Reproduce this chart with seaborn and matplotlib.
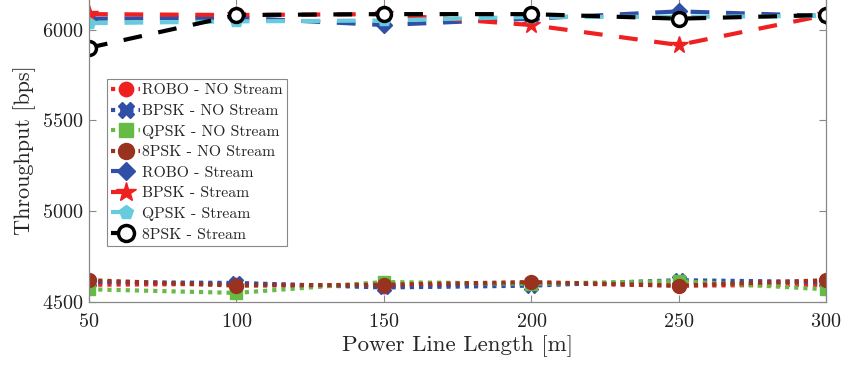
import matplotlib
matplotlib.use("Agg")
import matplotlib.pyplot as plt
import seaborn as sns
import pandas as pd

# ---- data ----
lengths = [50, 100, 150, 200, 250, 300]
robo_no = [4595, 4600, 4585, 4605, 4590, 4595]
bpsk_no = [4610, 4605, 4580, 4590, 4620, 4610]
qpsk_no = [4570, 4550, 4610, 4600, 4615, 4570]
psk8_no = [4620, 4590, 4595, 4610, 4590, 4620]
robo_s = [6060, 6065, 6025, 6060, 6100, 6075]
bpsk_s = [6085, 6080, 6085, 6025, 5915, 6080]
qpsk_s = [6035, 6045, 6050, 6070, 6070, 6075]
psk8_s = [5900, 6080, 6085, 6085, 6060, 6080]
labels = ["ROBO - NO Stream", "BPSK - NO Stream", "QPSK - NO Stream", "8PSK - NO Stream",
          "ROBO - Stream", "BPSK - Stream", "QPSK - Stream", "8PSK - Stream"]
xticks = [50, 100, 150, 200, 250, 300]
yticks = [4500, 5000, 5500, 6000]

sns.set_style("ticks")
plt.rcParams["font.family"] = "serif"
plt.rcParams["font.serif"] = ["cmr10", "DejaVu Serif"]
plt.rcParams["mathtext.fontset"] = "cm"
plt.rcParams["axes.formatter.use_mathtext"] = True
plt.rcParams["axes.unicode_minus"] = False

fig = plt.figure(figsize=(8.44, 3.65), dpi=100)
ax = fig.add_axes([0.1055, 0.1726, 0.8732, 0.832])

series = [robo_no, bpsk_no, qpsk_no, psk8_no, robo_s, bpsk_s, qpsk_s, psk8_s]
styles = [
    dict(color="#EE2020", marker="o", ms=9, mfc="#EE2020", mec="#EE2020", dashes=(1.0, 1.2)),
    dict(color="#3050A8", marker="X", ms=10, mfc="#3050A8", mec="#3050A8", dashes=(1.0, 1.2)),
    dict(color="#66BB44", marker="s", ms=9, mfc="#66BB44", mec="#66BB44", dashes=(1.0, 1.2)),
    dict(color="#993320", marker="o", ms=10, mfc="#993320", mec="#993320", dashes=(1.0, 1.2)),
    dict(color="#3050A8", marker="D", ms=8, mfc="#3050A8", mec="#3050A8", dashes=(4.5, 4.0)),
    dict(color="#EE2020", marker="*", ms=13, mfc="#EE2020", mec="#EE2020", dashes=(4.5, 4.0)),
    dict(color="#66CCDD", marker="p", ms=9, mfc="#66CCDD", mec="#66CCDD", dashes=(4.5, 4.0)),
    dict(color="#000000", marker="o", ms=10, mfc="white", mec="black", dashes=(4.5, 4.0)),
]

for vals, lab, st in zip(series, labels, styles):
    df = pd.DataFrame({"x": lengths, "y": vals})
    sns.lineplot(data=df, x="x", y="y", ax=ax, color=st["color"], marker=st["marker"],
                 markersize=st["ms"], markerfacecolor=st["mfc"], markeredgecolor=st["mec"],
                 markeredgewidth=2.5 if st["mfc"] == "white" else 1, linewidth=3,
                 label=lab, dashes=False)
    line = ax.get_lines()[-1]
    line.set_dashes(st["dashes"])
    line.set_dash_capstyle("butt")

ax.set_xlim(50, 300)
ax.set_ylim(4500, 6172)
ax.set_xticks(xticks)
ax.set_yticks(yticks)
ax.set_xlabel("Power Line Length [m]", fontsize=16.5, labelpad=3)
ax.set_ylabel("Throughput [bps]", fontsize=16, labelpad=4)
ax.tick_params(direction="in", top=True, right=True, labelsize=14.5, labelcolor="#222222",
               length=5, width=0.8, pad=4, color="#888888")
ax.tick_params(axis="x", pad=8)
for s in ax.spines.values():
    s.set_color("#888888")
    s.set_linewidth(0.9)

leg = ax.legend(loc="upper left", bbox_to_anchor=(0.024, 0.735), fontsize=11.3,
                frameon=True, fancybox=False, edgecolor="#888888", framealpha=1,
                labelspacing=0.42, handlelength=1.8, handletextpad=0.15, borderpad=0.3,
                borderaxespad=0, markerscale=1.15)
leg.get_frame().set_linewidth(0.8)

fig.savefig("out.png", dpi=100)
